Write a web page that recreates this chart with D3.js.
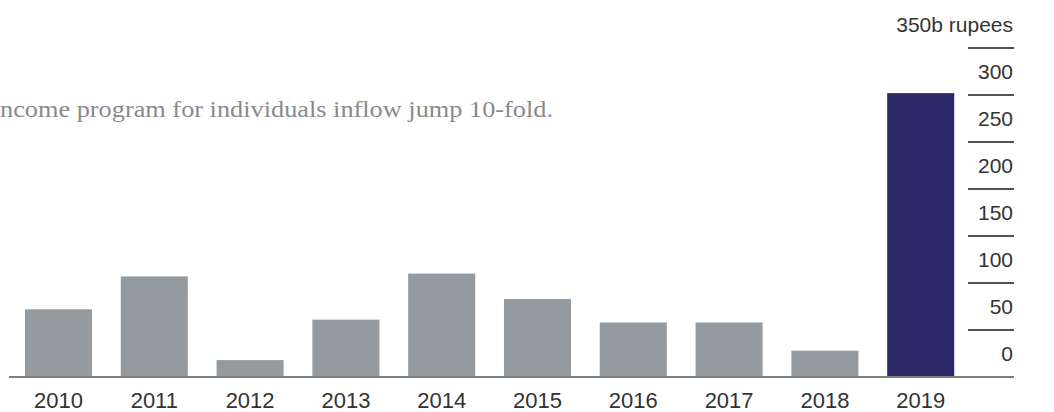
<!DOCTYPE html>
<html>
<head>
<meta charset="utf-8">
<script src="https://cdn.jsdelivr.net/npm/d3@7"></script>
<style>
  html, body { margin: 0; padding: 0; background: #ffffff; }
  svg { display: block; }
</style>
</head>
<body>
<svg id="chart" width="1054" height="412"></svg>
<script>
const years = ["2010","2011","2012","2013","2014","2015","2016","2017","2018","2019"];
const inflows = [72, 107, 18, 61, 110, 83, 58, 58, 28, 302];
const yTicks = [0, 50, 100, 150, 200, 250, 300, 350];
const yTickLabels = ["0", "50", "100", "150", "200", "250", "300", "350b rupees"];
const highlightYear = "2019";
const titleText = "ncome program for individuals inflow jump 10-fold.";

const svg = d3.select("#chart");

const x = d3.scaleBand().domain(years).range([10.6, 968.6]).paddingInner(0.3).paddingOuter(0.15);
const y = d3.scaleLinear().domain([0, 350]).range([377, 48]);

// title
svg.append("text")
  .attr("x", 0).attr("y", 117)
  .attr("font-family", "'Liberation Serif', 'Times New Roman', Times, serif")
  .attr("font-size", 23)
  .attr("fill", "#8a8a8a")
  .attr("textLength", 553)
  .attr("lengthAdjust", "spacingAndGlyphs")
  .text(titleText);

// bars
svg.append("g").selectAll("rect").data(years).join("rect")
  .attr("x", d => x(d))
  .attr("width", x.bandwidth())
  .attr("y", (d, i) => y(inflows[i]))
  .attr("height", (d, i) => y(0) - y(inflows[i]))
  .attr("fill", d => d === highlightYear ? "#2d2a6a" : "#939ba1");

// baseline
svg.append("line")
  .attr("x1", 9).attr("x2", 1014)
  .attr("y1", y(0)).attr("y2", y(0))
  .attr("stroke", "#7d7d7d").attr("stroke-width", 2.2);

// right axis tick lines and labels
const yAxis = svg.append("g");
yAxis.selectAll("line").data(yTicks.filter(v => v > 0)).join("line")
  .attr("x1", 968).attr("x2", 1014)
  .attr("y1", d => y(d)).attr("y2", d => y(d))
  .attr("stroke", "#1a1a1a").attr("stroke-width", 1.6);
yAxis.selectAll("text").data(yTicks).join("text")
  .attr("x", 1013)
  .attr("y", d => y(d) - 16)
  .attr("text-anchor", "end")
  .attr("font-family", "'Liberation Sans', Arial, Helvetica, sans-serif")
  .attr("font-size", 21)
  .attr("fill", "#333333")
  .text((d, i) => yTickLabels[i]);

// x axis labels
const xAxis = d3.axisBottom(x).tickSize(0).tickPadding(0);
const gx = svg.append("g").attr("transform", `translate(0, ${y(0) + 15})`).call(xAxis);
gx.select(".domain").remove();
gx.selectAll("text")
  .attr("dy", "0.71em")
  .attr("font-family", "'Liberation Sans', Arial, Helvetica, sans-serif")
  .attr("font-size", 22)
  .attr("fill", "#333333");
</script>
</body>
</html>
